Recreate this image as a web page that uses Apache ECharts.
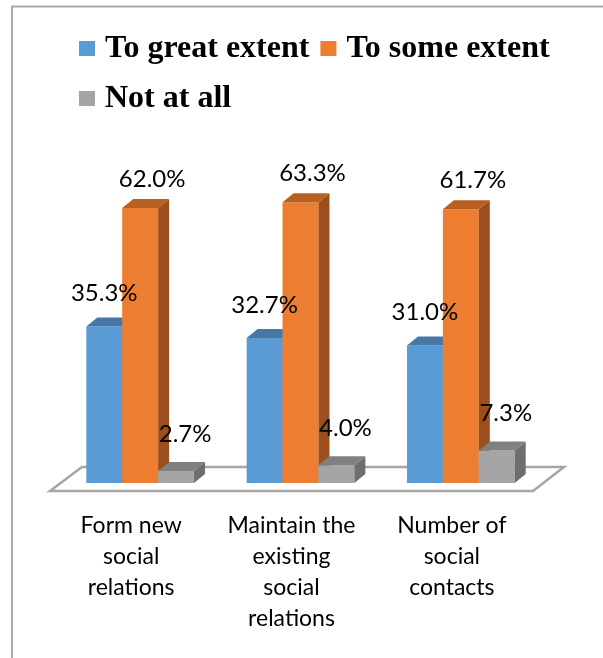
<!DOCTYPE html>
<html>
<head>
<meta charset="utf-8">
<script src="https://cdn.jsdelivr.net/npm/echarts@6/dist/echarts.min.js"></script>
<style>
  html, body { margin: 0; padding: 0; background: #fff; }
  #chart { width: 603px; height: 658px; }
</style>
</head>
<body>
<div id="chart"></div>
<script>
const categories = ['Form new\nsocial\nrelations', 'Maintain the\nexisting\nsocial\nrelations', 'Number of\nsocial\ncontacts'];
const seriesNames = ['To great extent', 'To some extent', 'Not at all'];
const greatExtent = [35.3, 32.7, 31.0];
const someExtent = [62.0, 63.3, 61.7];
const notAtAll = [2.7, 4.0, 7.3];

const seriesValues = [greatExtent, someExtent, notAtAll];
const frontColors = ['#5b9bd5', '#ed7d31', '#a5a5a5'];
const topColors = ['#4677a6', '#b85f22', '#808080'];
const sideColors = ['#3e6a94', '#9c4e1d', '#6e6e6e'];
const labelDx = [0, 12, 9];
const labelGap = [12, 8, 16];
const DX = 11, DY = 9;

function geom(k, api) {
  const ci = api.value(0), v = api.value(1);
  const base = api.coord([ci, 0]);
  const top = api.coord([ci, v]);
  const band = api.size([1, 0])[0];
  const w = band * 0.224;
  const x0 = base[0] + (k - 1.5) * w;
  return { v: v, x0: x0, x1: x0 + w, yb: base[1], yt: top[1] };
}

function barRenderer(k) {
  return function (params, api) {
    const g = geom(k, api);
    const x0 = g.x0, x1 = g.x1, yb = g.yb, yt = g.yt;
    return {
      type: 'group',
      children: [
        { type: 'rect', shape: { x: x0, y: yt, width: x1 - x0, height: yb - yt },
          style: { fill: frontColors[k] } },
        { type: 'polygon', shape: { points: [[x0, yt], [x0 + DX, yt - DY], [x1 + DX, yt - DY], [x1, yt]] },
          style: { fill: topColors[k] } },
        { type: 'polygon', shape: { points: [[x1, yt], [x1 + DX, yt - DY], [x1 + DX, yb - DY], [x1, yb]] },
          style: { fill: sideColors[k] } }
      ]
    };
  };
}

function labelRenderer(k) {
  return function (params, api) {
    const g = geom(k, api);
    return {
      type: 'text',
      x: (g.x0 + g.x1) / 2 + labelDx[k],
      y: g.yt - DY - labelGap[k],
      style: { text: g.v.toFixed(1) + '%', fill: '#000', font: '24px Lato',
               align: 'center', verticalAlign: 'bottom' }
    };
  };
}

const barSeries = seriesNames.map(function (name, k) {
  return {
    name: name,
    type: 'custom',
    z: 3 + k,
    itemStyle: { color: frontColors[k] },
    encode: { x: 0, y: 1 },
    data: seriesValues[k].map(function (v, i) { return [i, v]; }),
    renderItem: barRenderer(k)
  };
});

const labelSeries = seriesNames.map(function (name, k) {
  return {
    name: name,
    type: 'custom',
    z: 10,
    silent: true,
    itemStyle: { color: frontColors[k] },
    encode: { x: 0, y: 1 },
    data: seriesValues[k].map(function (v, i) { return [i, v]; }),
    renderItem: labelRenderer(k)
  };
});

const floorSeries = {
  name: 'floor',
  type: 'custom',
  z: 1,
  silent: true,
  encode: { x: 0, y: 1 },
  data: [[0, 0]],
  renderItem: function (params, api) {
    const cs = params.coordSys;
    const yf = cs.y + cs.height + 8;
    const xl = cs.x - 10, xr = cs.x + cs.width - 8;
    return {
      type: 'polygon',
      shape: { points: [[xl, yf], [xr, yf], [xr + 31, yf - 24], [xl + 32, yf - 24]] },
      style: { fill: '#fff', stroke: '#a6a6a6', lineWidth: 2.5 }
    };
  }
};

const chart = echarts.init(document.getElementById('chart'), null, { renderer: 'canvas' });
chart.setOption({
  backgroundColor: '#fff',
  animation: false,
  graphic: [{
    type: 'rect', z: 0,
    shape: { x: 12, y: 6.5, width: 700, height: 700 },
    style: { fill: 'none', stroke: '#aaaaaa', lineWidth: 2 }
  }],
  legend: {
    data: seriesNames,
    left: 79,
    top: 29,
    width: 475,
    orient: 'horizontal',
    icon: 'rect',
    itemWidth: 16,
    itemHeight: 15,
    itemGap: 11,
    padding: 0,
    textStyle: {
      fontFamily: 'Liberation Serif',
      fontWeight: 'bold',
      fontSize: 32,
      color: '#000',
      lineHeight: 39,
      padding: [0, 0, 0, 5]
    }
  },
  grid: { left: 60, right: 62, top: 172.5, bottom: 175, containLabel: false },
  xAxis: {
    type: 'category',
    data: categories,
    axisLine: { show: false },
    axisTick: { show: false },
    splitLine: { show: false },
    axisLabel: {
      interval: 0,
      color: '#000',
      fontFamily: 'Lato',
      fontSize: 23,
      lineHeight: 31,
      margin: 27,
      padding: [0, 18, 0, 0]
    }
  },
  yAxis: { type: 'value', min: 0, max: 70, show: false, splitLine: { show: false } },
  series: [floorSeries].concat(barSeries, labelSeries)
});
</script>
</body>
</html>
